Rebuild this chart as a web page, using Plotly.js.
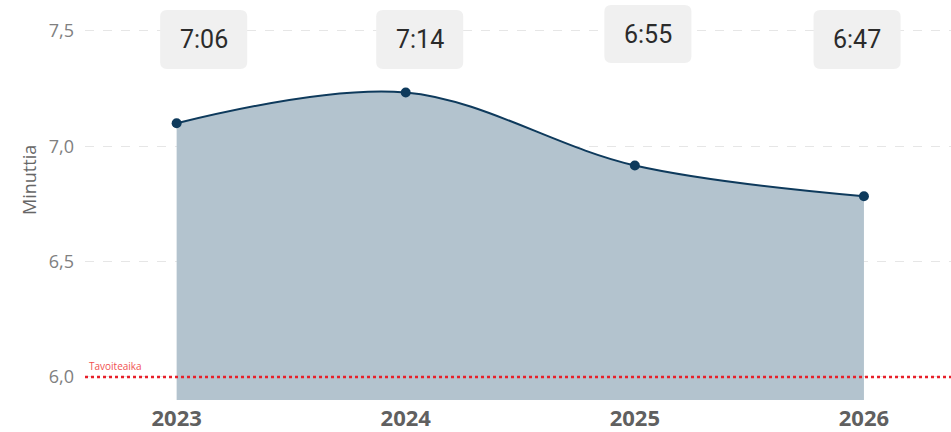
<!DOCTYPE html>
<html>
<head>
<meta charset="utf-8">
<script src="https://cdn.plot.ly/plotly-3.0.1.min.js"></script>
<style>
  html, body { margin: 0; padding: 0; background: #fff; }
  #chart { width: 951px; height: 432px; }
</style>
</head>
<body>
<div id="chart"></div>
<script>
const years = [2023, 2024, 2025, 2026];
const minutes = [7.1, 7.2333, 6.9167, 6.7833];
const timeLabels = ['7:06', '7:14', '6:55', '6:47'];
const targetMinutes = 6.0;
const targetLabel = 'Tavoiteaika';
const yTicks = [6.0, 6.5, 7.0, 7.5];
const yTitle = 'Minuttia';

// box placement tweaks (x offset in years, top/bottom in minutes)
const boxDx = [0.118, 0.061, 0.057, -0.03];
const boxTop = [7.591, 7.591, 7.612, 7.591];
const boxBottom = [7.335, 7.335, 7.361, 7.335];
const boxHalfW = 0.19;

function roundedRect(x0, x1, y0, y1) {
  const rx = 0.03, ry = 0.03;
  return `M${x0 + rx},${y1} L${x1 - rx},${y1} Q${x1},${y1} ${x1},${y1 - ry} ` +
    `L${x1},${y0 + ry} Q${x1},${y0} ${x1 - rx},${y0} L${x0 + rx},${y0} ` +
    `Q${x0},${y0} ${x0},${y0 + ry} L${x0},${y1 - ry} Q${x0},${y1} ${x0 + rx},${y1} Z`;
}

const area = {
  type: 'scatter',
  mode: 'lines+markers',
  x: years,
  y: minutes,
  fill: 'tozeroy',
  fillcolor: '#b3c3ce',
  line: { color: '#0e3a5c', width: 2, shape: 'spline', smoothing: 1 },
  marker: { color: '#0e3a5c', size: 10 },
  hoverinfo: 'skip'
};

const shapes = [
  {
    type: 'line', xref: 'paper', yref: 'y', x0: 0, x1: 1, y0: targetMinutes, y1: targetMinutes,
    line: { color: '#e8202a', width: 2.5, dash: 'dot' }, layer: 'above'
  }
].concat(years.map((yr, i) => ({
  type: 'path', xref: 'x', yref: 'y', layer: 'above',
  path: roundedRect(yr + boxDx[i] - boxHalfW, yr + boxDx[i] + boxHalfW, boxBottom[i], boxTop[i]),
  fillcolor: '#f0f0f0', line: { width: 0 }
})));

const annotations = years.map((yr, i) => ({
  x: yr + boxDx[i], y: (boxTop[i] + boxBottom[i]) / 2, xref: 'x', yref: 'y',
  text: timeLabels[i], showarrow: false,
  font: { family: 'Roboto, sans-serif', size: 25, color: '#2b2b2b' }
})).concat([
  {
    x: 0.002, y: targetMinutes, xref: 'paper', yref: 'y', xanchor: 'left', yanchor: 'bottom', yshift: 2,
    text: targetLabel, showarrow: false,
    font: { family: 'Open Sans, sans-serif', size: 10, color: '#f05050' }
  },
  {
    x: 0, y: 0.55, xref: 'paper', yref: 'paper', xanchor: 'center', yanchor: 'middle', xshift: -56, textangle: -90,
    text: yTitle, showarrow: false,
    font: { family: 'Open Sans, sans-serif', size: 18, color: '#666666' }
  }
]);

const layout = {
  width: 951,
  height: 432,
  margin: { l: 85, r: 0, t: 0, b: 32 },
  paper_bgcolor: '#ffffff',
  plot_bgcolor: '#ffffff',
  separators: ',.',
  showlegend: false,
  xaxis: {
    range: [2022.6, 2026.38],
    tickvals: years,
    ticktext: years.map(String),
    showgrid: false, zeroline: false, showline: false, ticks: '',
    ticklabelstandoff: 3,
    tickfont: { family: 'Open Sans, sans-serif', size: 22, color: '#606060', weight: 'bold' }
  },
  yaxis: {
    range: [5.9, 7.634],
    tickvals: yTicks,
    tickformat: '.1f',
    showgrid: true, gridcolor: '#e6e6e6', griddash: 'dash', gridwidth: 1,
    zeroline: false, showline: false, ticks: '',
    ticklabelstandoff: 10,
    tickfont: { family: 'Open Sans, sans-serif', size: 18, color: '#808080' }
  },
  shapes,
  annotations
};

Plotly.newPlot('chart', [area], layout, { displayModeBar: false, staticPlot: true });
</script>
</body>
</html>
